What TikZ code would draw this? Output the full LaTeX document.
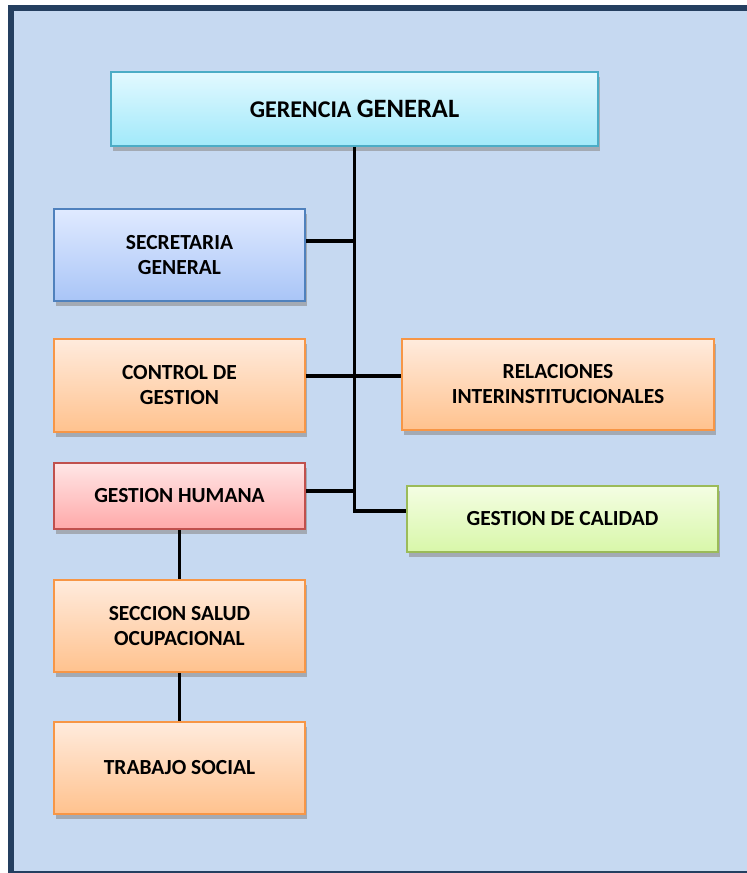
\documentclass[tikz,border=0pt]{standalone}
\usepackage{fontspec}
\setmainfont{Carlito}
\usetikzlibrary{shadows, positioning}
\definecolor{fondo}{HTML}{C6D9F1}
\definecolor{marco}{HTML}{243F60}
\definecolor{cianborde}{HTML}{4BACC6}
\definecolor{cianarriba}{HTML}{E2F9FF}
\definecolor{cianabajo}{HTML}{A1E9FA}
\definecolor{azulborde}{HTML}{4F81BD}
\definecolor{azularriba}{HTML}{E0EAFF}
\definecolor{azulabajo}{HTML}{A9C5F7}
\definecolor{naranjaborde}{HTML}{F79646}
\definecolor{naranjaarriba}{HTML}{FFEBDD}
\definecolor{naranjaabajo}{HTML}{FFC28E}
\definecolor{rojoborde}{HTML}{C0504D}
\definecolor{rojoarriba}{HTML}{FFE6E6}
\definecolor{rojoabajo}{HTML}{FFA9A9}
\definecolor{verdeborde}{HTML}{9BBB59}
\definecolor{verdearriba}{HTML}{F4FEE3}
\definecolor{verdeabajo}{HTML}{D8F7A9}

\begin{document}
\begin{tikzpicture}[x=1pt, y=-1pt,
  caja/.style={draw, line width=1.8pt, minimum width=251pt, minimum height=92pt,
    align=center, font=\fontsize{21.5}{25}\selectfont\bfseries, inner sep=0pt, text=black,
    drop shadow={shadow xshift=2pt, shadow yshift=-5pt, fill=black!45, opacity=0.6}},
  cian/.style={caja, draw=cianborde, top color=cianarriba, bottom color=cianabajo},
  azul/.style={caja, draw=azulborde, top color=azularriba, bottom color=azulabajo},
  naranja/.style={caja, draw=naranjaborde, top color=naranjaarriba, bottom color=naranjaabajo},
  rojo/.style={caja, draw=rojoborde, top color=rojoarriba, bottom color=rojoabajo},
  verde/.style={caja, draw=verdeborde, top color=verdearriba, bottom color=verdeabajo},
  enlace/.style={draw=black, line width=3.3pt}]
  \useasboundingbox (0,0) rectangle (747,873);
  \clip (0,0) rectangle (747,873);
  \fill[white] (0,0) rectangle (747,873);

  % Marco de fondo (el lado derecho queda fuera)
  \fill[fondo] (11,8) rectangle (747,874);
  \draw[marco, line width=6pt] (760,8) -- (11,8) -- (11,874) -- (760,874);

  % Cajas
  \node[cian, minimum width=487pt, minimum height=74pt] (gerencia) at (354.5,109)
    {\fontsize{24}{27}\selectfont GERENCIA {\fontsize{26.5}{27}\selectfont GENERAL}};
  \node[azul] (secretaria) at (179.5,255) {SECRETARIA\\GENERAL};
  \node[naranja, minimum height=93pt] (control) at (179.5,385.5) {CONTROL DE\\GESTION};
  \node[naranja, minimum width=312pt, minimum height=91pt] (relaciones) at (558,384.5)
    {RELACIONES\\INTERINSTITUCIONALES};
  \node[rojo, minimum height=66pt] (humana) at (179.5,496) {GESTION HUMANA};
  \node[verde, minimum width=311pt, minimum height=66pt] (calidad) at (562.5,519) {GESTION DE CALIDAD};
  \node[naranja] (salud) at (179.5,626) {SECCION SALUD\\OCUPACIONAL};
  \node[naranja] (trabajo) at (179.5,768) {TRABAJO SOCIAL};

  % Conectores
  \draw[enlace] (gerencia.south) -- (gerencia.south |- 0,511) -- (calidad.west |- 0,511);
  \draw[enlace] (secretaria.east |- 0,241) -- (gerencia.south |- 0,241);
  \draw[enlace] (control.east |- 0,376) -- (relaciones.west |- 0,376);
  \draw[enlace] (humana.east |- 0,491) -- (gerencia.south |- 0,491);
  \draw[enlace] (humana.south) -- (salud.north);
  \draw[enlace] (salud.south) -- (trabajo.north);
\end{tikzpicture}
\end{document}
